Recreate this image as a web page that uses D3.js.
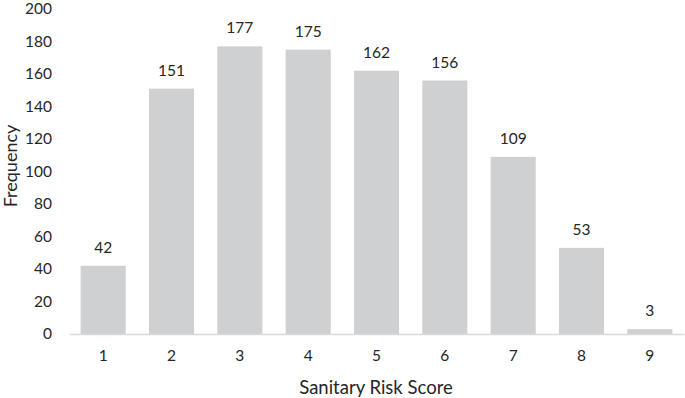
<!DOCTYPE html>
<html>
<head>
<meta charset="utf-8">
<script src="https://cdn.jsdelivr.net/npm/d3@7"></script>
<style>
  body { margin: 0; background: #fff; }
  svg text { font-family: Lato, "Open Sans", sans-serif; fill: #262626; }
</style>
</head>
<body>
<div id="chart"></div>
<script>
const scores = ['1', '2', '3', '4', '5', '6', '7', '8', '9'];
const frequency = [42, 151, 177, 175, 162, 156, 109, 53, 3];
const yTicks = [0, 20, 40, 60, 80, 100, 120, 140, 160, 180, 200];

function draw() {
  const width = 685, height = 398;
  const margin = ({ top: 9, right: 1, bottom: 64, left: 69 });
  const innerH = height - margin.top - margin.bottom;

  const data = scores.map((s, i) => ({ score: s, value: frequency[i] }));

  const svg = d3.select('#chart').append('svg')
    .attr('width', width)
    .attr('height', height);

  const g = svg.append('g')
    .attr('transform', `translate(${margin.left}, ${margin.top})`);

  let xScale = d3.scaleBand()
    .domain(scores)
    .range([0, width - margin.left - margin.right])
    .paddingInner(0.34)
    .paddingOuter(0.17);
  let yScale = d3.scaleLinear()
    .domain([0, 200])
    .range([innerH, 0]);

  // bars
  g.selectAll('rect.bar')
    .data(data)
    .enter().append('rect')
    .attr('class', 'bar')
    .attr('x', d => xScale(d.score))
    .attr('y', d => yScale(d.value))
    .attr('width', xScale.bandwidth())
    .attr('height', d => innerH - yScale(d.value))
    .style('fill', '#cfd0d2');

  // value labels
  g.selectAll('text.value')
    .data(data)
    .enter().append('text')
    .attr('class', 'value')
    .attr('x', d => xScale(d.score) + xScale.bandwidth() / 2)
    .attr('y', d => yScale(d.value) - 13)
    .attr('text-anchor', 'middle')
    .style('font-size', '15.5px')
    .text(d => d.value);

  // x axis
  let xAxis = d3.axisBottom(xScale).tickSize(0).tickPadding(16);
  let xAxisGroup = g.append('g')
    .attr('class', 'x axis')
    .attr('transform', `translate(0, ${innerH})`)
    .call(xAxis);
  xAxisGroup.select('.domain').attr('stroke', '#d9d9d9').attr('stroke-width', 1.5);
  xAxisGroup.selectAll('text').style('font-size', '15.5px').attr('fill', '#262626');

  // y axis
  let yAxis = d3.axisLeft(yScale).tickValues(yTicks).tickSize(0).tickPadding(17);
  let yAxisGroup = g.append('g')
    .attr('class', 'y axis')
    .call(yAxis);
  yAxisGroup.select('.domain').remove();
  yAxisGroup.selectAll('text').style('font-size', '15.5px').attr('fill', '#262626');

  // axis titles
  svg.append('text')
    .attr('x', 376)
    .attr('y', 394)
    .attr('text-anchor', 'middle')
    .style('font-size', '18.5px')
    .text('Sanitary Risk Score');

  svg.append('text')
    .attr('transform', 'translate(17, 166) rotate(-90)')
    .attr('text-anchor', 'middle')
    .style('font-size', '18px')
    .text('Frequency');
}
draw();
</script>
</body>
</html>
